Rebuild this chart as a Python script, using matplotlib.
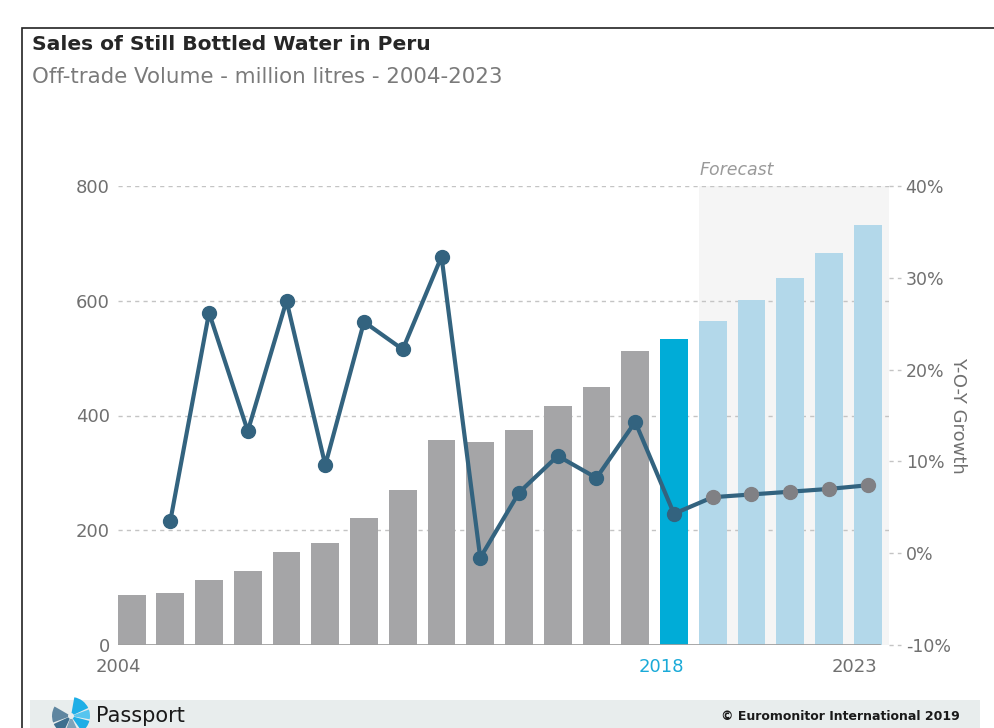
import matplotlib
matplotlib.use("Agg")
import matplotlib.pyplot as plt
import matplotlib.patches as mpatches
import matplotlib.transforms as mtransforms

years = list(range(2004, 2024))
volume = [87, 91, 113, 129, 162, 178, 221, 270, 357, 354, 375, 417, 450, 512,
          533, 565, 601, 640, 683, 732]
growth_years = list(range(2005, 2024))
growth = [3.5, 26.2, 13.3, 27.5, 9.6, 25.2, 22.2, 32.3, -0.5, 6.6, 10.6, 8.2,
          14.3, 4.3, 6.1, 6.4, 6.7, 7.0, 7.4]
left_ticks = [0, 200, 400, 600, 800]
right_ticks = [-10, 0, 10, 20, 30, 40]
xlabels = {2004: "2004", 2018: "2018", 2023: "2023"}
title = "Sales of Still Bottled Water in Peru"
subtitle = "Off-trade Volume - million litres - 2004-2023"

W, H = 994, 728
fig = plt.figure(figsize=(W / 100, H / 100), dpi=100)
FONT = "DejaVu Sans"
TICK = "#707070"


def fx(px):
    return px / W


def fy(py):
    return 1 - py / H


# frame
fig.patches.append(mpatches.Rectangle((fx(22), fy(1000)), 5, fy(28) - fy(1000),
                                      transform=fig.transFigure, fill=False,
                                      edgecolor="#222222", lw=1.2))
# footer band
fig.patches.append(mpatches.Rectangle((fx(30), 0), fx(980) - fx(30), fy(700),
                                      transform=fig.transFigure,
                                      facecolor="#e8eded", edgecolor="none"))

fig.text(fx(32), fy(45), title, fontsize=14.6, fontweight="bold",
         family=FONT, color="#262626", va="center", ha="left")
fig.text(fx(32), fy(77), subtitle, fontsize=15.4, family=FONT,
         color="#7a7a7a", va="center", ha="left")

ax = fig.add_axes([fx(118), fy(645), fx(889) - fx(118), fy(186) - fy(645)])
ax.set_xlim(2003.65, 2023.55)
ax.set_ylim(0, 800)

ax.axvspan(2018.64, 2023.55, color="#f5f5f5", zorder=0, lw=0)

colors = []
for y in years:
    if y < 2018:
        colors.append("#a5a5a7")
    elif y == 2018:
        colors.append("#00acd7")
    else:
        colors.append("#b3d8ea")
ax.bar(years, volume, width=0.72, color=colors, zorder=2)

for t in left_ticks[1:]:
    ax.axhline(t, color="#c4c4c4", lw=1, ls=(0, (3, 3)), zorder=1)
ax.axhline(0, xmax=0.987, color="#a0a0a0", lw=2, zorder=3)

ax.set_yticks(left_ticks)
ax.set_yticklabels([str(t) for t in left_ticks], family=FONT,
                   fontsize=13, color=TICK)
ax.tick_params(axis="y", length=0, pad=6)
ax.set_xticks([])
for s in ax.spines.values():
    s.set_visible(False)
ax.patch.set_visible(False)

for yr, lab in xlabels.items():
    ax.text(yr - 0.33, -38, lab, ha="center", va="center", family=FONT,
            fontsize=13, color="#1aaad8" if yr == 2018 else TICK)

ax.text(2018.66, 812, "Forecast", ha="left", va="bottom", style="italic",
        family=FONT, fontsize=12.5, color="#9a9a9a")

ax2 = ax.twinx()
ax2.set_ylim(-10, 40)
ax2.set_xlim(ax.get_xlim())
ax2.plot(growth_years, growth, color="#33637f", lw=3, zorder=4)
hist_x = [y for y in growth_years if y <= 2018]
hist_g = [g for y, g in zip(growth_years, growth) if y <= 2018]
fc_x = [y for y in growth_years if y > 2018]
fc_g = [g for y, g in zip(growth_years, growth) if y > 2018]
ax2.plot(hist_x, hist_g, ls="none", marker="o", ms=10, color="#33637f", zorder=5)
ax2.plot(fc_x, fc_g, ls="none", marker="o", ms=10, color="#808084", zorder=5)

ax2.set_yticks(right_ticks)
ax2.set_yticklabels([f"{t}%" for t in right_ticks], family=FONT,
                    fontsize=12.5, color=TICK)
ax2.tick_params(axis="y", length=0, pad=12)
trans = mtransforms.blended_transform_factory(ax2.transAxes, ax2.transData)
for t in right_ticks:
    ax2.plot([1.0, 1.015], [t, t], transform=trans, color="#c4c4c4", lw=1,
             ls=(0, (3, 3)), clip_on=False)
for s in ax2.spines.values():
    s.set_visible(False)
ax2.set_ylabel("Y-O-Y Growth", rotation=-90, family=FONT, fontsize=13,
               color=TICK, labelpad=12)

# footer logo (fan of wedges), in display pixels
cx, cy = 71, H - 716
wedges = [
    (150, 200, "#5f86a0"), (205, 245, "#3d6f8f"), (250, 295, "#7fa3b9"),
    (25, 80, "#1eaee6"), (305, 345, "#1eaee6"), (350, 20, "#57c5ef"),
]
for a1, a2, c in wedges:
    fig.patches.append(mpatches.Wedge((cx, cy), 19, a1, a2, width=16,
                                      transform=None, facecolor=c,
                                      edgecolor="none"))
fig.text(fx(96), fy(716), "Passport", fontsize=15, family=FONT,
         color="#1a1a1a", va="center", ha="left")
fig.text(fx(960), fy(716), "© Euromonitor International 2019", fontsize=9,
         family=FONT, fontweight="bold", color="#1a1a1a",
         va="center", ha="right")

fig.savefig("out.png", dpi=100)
